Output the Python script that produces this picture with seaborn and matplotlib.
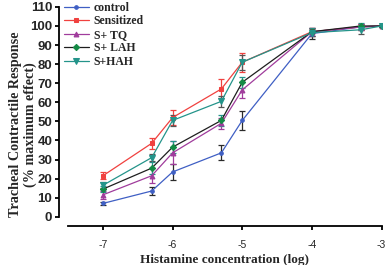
import pandas as pd
import seaborn as sns
import matplotlib.pyplot as plt

# log histamine concentration
log_conc = [-7, -6.3, -6, -5.3, -5, -4, -3.3, -3]

groups = ['control', 'Sensitized', 'S+ TQ', 'S+ LAH', 'S+HAH']

control = [7, 13.5, 23.5, 33.5, 50.5, 96, 99.5, 100]
sensitized = [21.5, 38.5, 52, 67, 81, 97, 99.5, 100]
s_tq = [11.5, 21.5, 33.5, 49, 66.5, 97, 99.5, 100]
s_lah = [14.5, 25.5, 36.5, 50.5, 70.5, 97, 100, 100]
s_hah = [16.5, 31, 50.5, 60.5, 81, 96.5, 98, 100]

control_sem = [1, 2, 4, 4, 5, 3, 1.5, 0.5]
sensitized_sem = [1.8, 3, 4, 5, 5, 2, 1.5, 0.5]
s_tq_sem = [2, 4, 6, 3, 4, 2, 1.5, 0.5]
s_lah_sem = [1.5, 3, 3, 3, 3, 2, 1.5, 0.5]
s_hah_sem = [1.5, 2, 3, 3, 4, 2, 2, 0.5]

values = [control, sensitized, s_tq, s_lah, s_hah]
sems = [control_sem, sensitized_sem, s_tq_sem, s_lah_sem, s_hah_sem]

line_colors = ['#3f5fc4', '#f0413f', '#a03c9c', '#1e1e1e', '#24948a']
marker_colors = ['#3f5fc4', '#f0413f', '#a03c9c', '#138a45', '#24948a']
err_colors = ['#2a2a2a', '#f0413f', '#a03c9c', '#24948a', '#555555']
markers = ['o', 's', '^', 'D', 'v']
msizes = [2.6, 3.5, 3.5, 3.2, 4]

df = pd.concat([
    pd.DataFrame({'conc': log_conc, 'resp': v, 'sem': s, 'group': g})
    for g, v, s in zip(groups, values, sems)
])

sns.set_style('ticks')
fig = plt.figure(figsize=(3.87, 2.65), dpi=100)
ax = fig.add_axes([0.176, 0.182, 0.81, 0.792])

for i, g in enumerate(groups):
    sub = df[df['group'] == g]
    ax.errorbar(sub['conc'], sub['resp'], yerr=sub['sem'], fmt='none',
                ecolor=err_colors[i], elinewidth=0.9, capsize=2.5, capthick=0.9, zorder=2)
    sns.lineplot(data=sub, x='conc', y='resp', ax=ax, color=line_colors[i],
                 marker=markers[i], markersize=msizes[i], markerfacecolor=marker_colors[i],
                 markeredgecolor=marker_colors[i], linewidth=0.9, label=g, zorder=3)

ax.set_xlim(-7.5, -3)
ax.set_ylim(0, 110)
ax.set_xticks([-7, -6, -5, -4, -3])
ax.set_xticklabels(['-7', '-6', '-5', '-4', '-3'])
ax.set_yticks(range(0, 111, 10))
sns.despine(ax=ax, offset=6.5)
for s in ['left', 'bottom']:
    ax.spines[s].set_linewidth(1.3)
    ax.spines[s].set_color('black')
ax.tick_params(axis='both', length=3, width=1.3, color='black', pad=2)
ax.tick_params(axis='x', labelsize=7.5, pad=7)
for lab in ax.get_yticklabels():
    lab.set_fontfamily('Liberation Sans')
    lab.set_fontweight('bold')
    lab.set_fontsize(9.5)
for lab in ax.get_xticklabels():
    lab.set_fontfamily('Liberation Sans')

ax.set_xlabel('Histamine concentration (log)', fontfamily='Liberation Serif',
              fontweight='bold', fontsize=9.5, labelpad=3)
ax.set_ylabel('Tracheal Contractile Response\n(% maximum effect)', fontfamily='Liberation Serif',
              fontweight='bold', fontsize=10.2, linespacing=1.15)
ax.yaxis.set_label_coords(-0.098, 0.44)

leg = ax.legend(loc='upper left', bbox_to_anchor=(-0.025, 1.04), frameon=False,
                prop={'family': 'Liberation Serif', 'weight': 'bold', 'size': 8.5},
                handlelength=2.1, labelspacing=0.12, handletextpad=0.45,
                borderaxespad=0, borderpad=0.3)

fig.savefig('out.png', dpi=100)
